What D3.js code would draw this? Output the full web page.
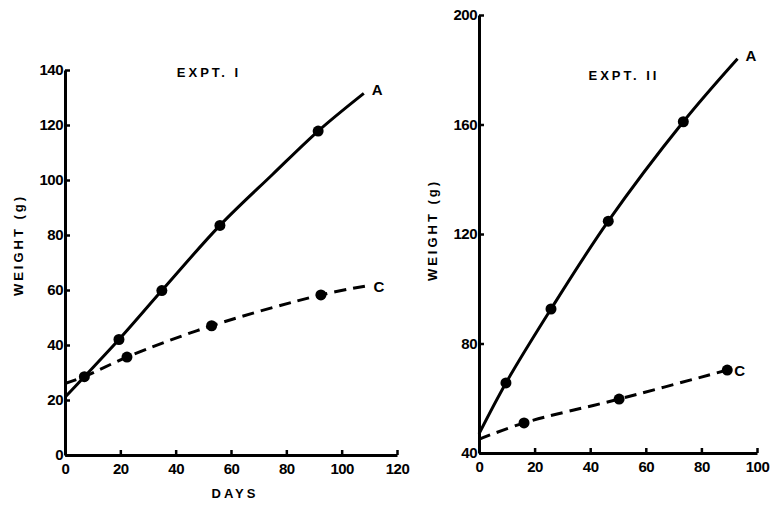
<!DOCTYPE html>
<html><head><meta charset="utf-8">
<script src="https://cdn.jsdelivr.net/npm/d3@7"></script>
<style>body{margin:0;background:#fff}text{font-family:"Liberation Sans",Arial,sans-serif;font-weight:bold;fill:#000}</style>
</head><body>
<svg id="c" width="771" height="506"></svg>
<script>
// Experiment I
const e1Ticks = [0, 20, 40, 60, 80, 100, 120];
const e1YTicks = [0, 20, 40, 60, 80, 100, 120, 140];
const e1A_line = [[0, 21], [7, 28.5], [19.5, 42], [35, 59.8], [56, 83.5], [75, 102], [91.5, 117.8], [108, 131.5]];
const e1A_pts = [[7, 28.5], [19.5, 42], [35, 59.8], [56, 83.5], [91.5, 117.8]];
const e1C_line = [[0, 26], [7, 28.5], [22.4, 35.6], [53, 47], [92.5, 58.2], [109, 61.5]];
const e1C_pts = [[22.4, 35.6], [53, 47], [92.5, 58.2]];
// Experiment II
const e2Ticks = [0, 20, 40, 60, 80, 100];
const e2YTicks = [40, 80, 120, 160, 200];
const e2A_line = [[0, 47], [9.7, 65.6], [25.9, 92.6], [46.5, 124.7], [73.5, 161], [93, 184]];
const e2A_pts = [[9.7, 65.6], [25.9, 92.6], [46.5, 124.7], [73.5, 161]];
const e2C_line = [[0, 45], [16.2, 51], [50.4, 59.7], [89.3, 70.3]];
const e2C_pts = [[16.2, 51], [50.4, 59.7], [89.3, 70.3]];

const svg = d3.select("#c");

function panel(o) {
  const x = d3.scaleLinear().domain(o.xd).range(o.xr);
  const y = d3.scaleLinear().domain(o.yd).range(o.yr);
  const g = svg.append("g");
  const ax = g.append("g").attr("transform", `translate(0,${o.yr[0]})`)
    .call(d3.axisBottom(x).tickValues(o.xt).tickSize(-5).tickPadding(8).tickSizeOuter(0));
  const ay = g.append("g").attr("transform", `translate(${o.xr[0]},0)`)
    .call(d3.axisLeft(y).tickValues(o.yt).tickSize(-5).tickPadding(2).tickSizeOuter(0));
  [ax, ay].forEach(a => {
    a.select(".domain").attr("stroke", "#000").attr("stroke-width", 3);
    a.selectAll(".tick line").attr("stroke", "#000").attr("stroke-width", 2.5);
    a.selectAll("text").style("font-size", "15px").style("font-weight", "bold")
      .style("letter-spacing", "-0.5px").attr("fill", "#000");
  });
  const line = d3.line().x(d => x(d[0])).y(d => y(d[1])).curve(d3.curveCatmullRom.alpha(0.5));
  g.append("path").attr("d", line(o.aLine)).attr("fill", "none").attr("stroke", "#000").attr("stroke-width", 3);
  g.append("path").attr("d", line(o.cLine)).attr("fill", "none").attr("stroke", "#000").attr("stroke-width", 3)
    .attr("stroke-dasharray", "12,7");
  g.selectAll(".pt").data(o.aPts.concat(o.cPts)).enter().append("circle")
    .attr("cx", d => x(d[0])).attr("cy", d => y(d[1])).attr("r", 5.5).attr("fill", "#000");
  const la = o.aLine[o.aLine.length - 1], lc = o.cLine[o.cLine.length - 1];
  g.append("text").attr("x", x(la[0]) + 8).attr("y", y(la[1]) + 2).style("font-size", "15px").text("A");
  g.append("text").attr("x", x(lc[0]) + 7).attr("y", y(lc[1]) + 6).style("font-size", "15px").text("C");
  g.append("text").attr("x", o.title[1]).attr("y", o.title[2]).attr("text-anchor", "middle")
    .style("font-size", "13px").style("letter-spacing", "3px").text(o.title[0]);
  g.append("text").attr("transform", `translate(${o.ylab[0]},${o.ylab[1]}) rotate(-90)`)
    .attr("text-anchor", "middle").style("font-size", "13px").style("letter-spacing", "3px").text("WEIGHT (g)");
  return {x, y};
}

panel({xd: [0, 120], xr: [65, 397], yd: [0, 140], yr: [455, 70], xt: e1Ticks, yt: e1YTicks,
  aLine: e1A_line, aPts: e1A_pts, cLine: e1C_line, cPts: e1C_pts,
  title: ["EXPT. I", 209, 77], ylab: [23, 245]});
panel({xd: [0, 100], xr: [479, 757], yd: [40, 200], yr: [453, 15], xt: e2Ticks, yt: e2YTicks,
  aLine: e2A_line, aPts: e2A_pts, cLine: e2C_line, cPts: e2C_pts,
  title: ["EXPT. II", 624, 80], ylab: [437, 230]});
svg.append("text").attr("x", 235).attr("y", 498).attr("text-anchor", "middle")
  .style("font-size", "13px").style("letter-spacing", "3px").text("DAYS");
</script>
</body></html>
